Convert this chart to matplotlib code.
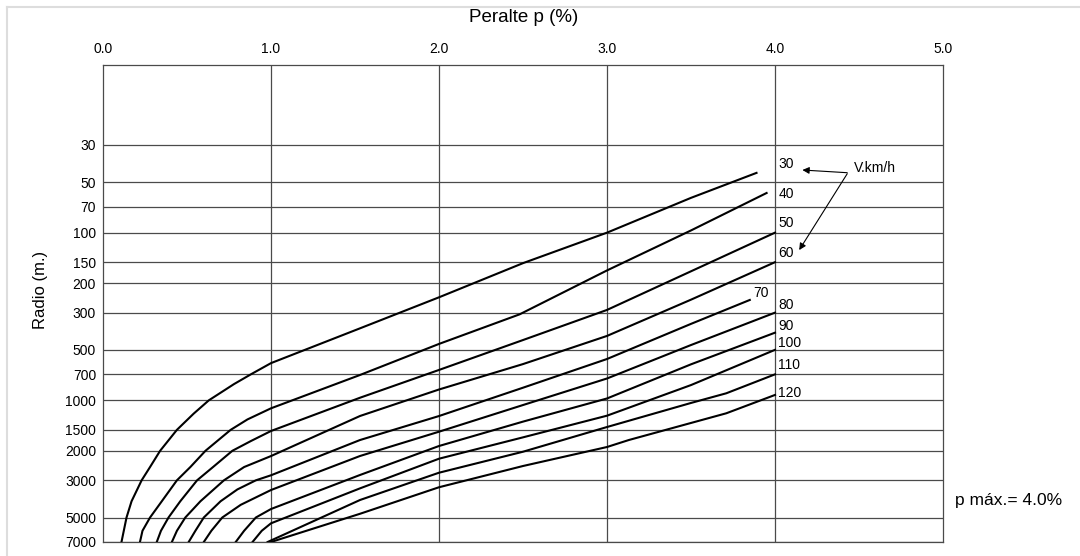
import matplotlib
matplotlib.use("Agg")
import matplotlib.pyplot as plt
from matplotlib.lines import Line2D

plt.rcParams['font.family'] = ['Liberation Sans', 'DejaVu Sans']

# peralte p (%) vs radio R (m) for each design speed
speeds = [30, 40, 50, 60, 70, 80, 90, 100, 110, 120]

p_30 = [0.11, 0.14, 0.17, 0.23, 0.28, 0.34, 0.44, 0.54, 0.63, 0.78, 0.88, 1.0, 1.53, 2.0, 2.5, 3.0, 3.5, 3.89]
r_30 = [7000, 5000, 4000, 3000, 2500, 2000, 1500, 1200, 1000, 800, 700, 600, 372, 243, 152, 100, 62, 44]

p_40 = [0.22, 0.235, 0.28, 0.35, 0.44, 0.52, 0.61, 0.76, 0.86, 1.0, 1.53, 2.0, 2.48, 3.0, 3.5, 3.95]
r_40 = [7000, 6000, 5000, 4000, 3000, 2500, 2000, 1500, 1300, 1116, 706, 461, 307, 168, 97, 58]

p_50 = [0.32, 0.345, 0.39, 0.46, 0.56, 0.655, 0.77, 0.88, 1.0, 1.53, 2.0, 2.5, 3.0, 3.5, 4.0]
r_50 = [7000, 6000, 5000, 4000, 3000, 2500, 2000, 1750, 1524, 965, 659, 437, 289, 170, 100]

p_60 = [0.41, 0.44, 0.49, 0.58, 0.72, 0.84, 1.0, 1.53, 2.0, 2.5, 3.0, 3.5, 4.0]
r_60 = [7000, 6000, 5000, 4000, 3000, 2500, 2150, 1240, 862, 608, 413, 251, 150]

p_70 = [0.51, 0.55, 0.60, 0.70, 0.80, 0.91, 1.0, 1.53, 2.0, 2.5, 3.0, 3.5, 3.85]
r_70 = [7000, 6000, 5000, 4000, 3400, 3000, 2800, 1725, 1241, 841, 567, 350, 252]

p_80 = [0.60, 0.645, 0.71, 0.82, 1.0, 1.53, 2.0, 2.5, 3.0, 3.5, 4.0]
r_80 = [7000, 6000, 5000, 4200, 3428, 2148, 1539, 1067, 741, 468, 300]

p_90 = [0.79, 0.84, 0.91, 1.0, 1.53, 2.0, 2.5, 3.0, 3.5, 4.0]
r_90 = [7000, 6000, 5000, 4450, 2788, 1873, 1340, 975, 610, 395]

p_100 = [0.89, 0.945, 1.0, 1.53, 2.0, 2.5, 3.0, 3.5, 4.0]
r_100 = [7000, 6000, 5415, 3350, 2230, 1663, 1235, 811, 500]

p_110 = [0.98, 1.53, 2.0, 2.5, 3.0, 3.5, 3.71, 4.0]
r_110 = [7000, 3931, 2703, 2026, 1443, 1037, 908, 700]

p_120 = [1.0, 1.53, 2.0, 2.5, 3.0, 3.13, 3.71, 4.0]
r_120 = [7000, 4750, 3300, 2465, 1899, 1725, 1195, 929]

curves = [(p_30, r_30), (p_40, r_40), (p_50, r_50), (p_60, r_60), (p_70, r_70),
          (p_80, r_80), (p_90, r_90), (p_100, r_100), (p_110, r_110), (p_120, r_120)]

x_ticks = [0.0, 1.0, 2.0, 3.0, 4.0, 5.0]
y_ticks = [30, 50, 70, 100, 150, 200, 300, 500, 700, 1000, 1500, 2000, 3000, 5000, 7000]

# label positions (p, R) for each speed
label_pos = {30: (4.02, 39), 40: (4.02, 59), 50: (4.02, 88), 60: (4.02, 133),
             70: (3.87, 230), 80: (4.02, 269), 90: (4.02, 359), 100: (4.02, 453),
             110: (4.02, 613), 120: (4.02, 901)}

W, H = 1080, 556
fig = plt.figure(figsize=(W / 100, H / 100), dpi=100)
ax = fig.add_axes([103 / W, 1 - 542 / H, (943 - 103) / W, (542 - 65) / H])

grid_c = '#4a4a4a'
for x in x_ticks[1:-1]:
    ax.axvline(x, color=grid_c, lw=0.9, zorder=1)
for y in y_ticks:
    ax.axhline(y, color=grid_c, lw=0.9, zorder=1)

for p, r in curves:
    ax.plot(p, r, color='black', lw=1.5, zorder=3, solid_joinstyle='round')

ax.set_yscale('log')
ax.set_xlim(0, 5)
ax.set_ylim(7000, 10)
ax.minorticks_off()
ax.set_xticks(x_ticks)
ax.set_xticklabels([f'{v:.1f}' for v in x_ticks])
ax.set_yticks(y_ticks)
ax.set_yticklabels([str(v) for v in y_ticks])
ax.xaxis.tick_top()
ax.tick_params(axis='x', length=0, pad=6.5, labelsize=10)
ax.tick_params(axis='y', length=0, pad=5, labelsize=10)
for s in ax.spines.values():
    s.set_color(grid_c)
    s.set_linewidth(0.9)

for v in speeds:
    px, py = label_pos[v]
    ax.text(px, py, str(v), fontsize=10, ha='left', va='center')

ax.text(4.47, 41, 'V.km/h', fontsize=10, ha='left', va='center')
arrow = dict(arrowstyle='-|>', color='black', lw=0.8, mutation_scale=10, shrinkA=0, shrinkB=0)
ax.annotate('', xy=(4.163, 42.3), xytext=(4.43, 43.9), arrowprops=arrow)
ax.annotate('', xy=(4.144, 127), xytext=(4.43, 44.5), arrowprops=arrow)

fig.text(524 / W, 1 - 18 / H, 'Peralte p (%)', ha='center', va='center', fontsize=13.5)
fig.text(40 / W, 1 - 290 / H, 'Radio (m.)', ha='center', va='center', rotation=90, fontsize=12)
fig.text(955 / W, 1 - 500 / H, 'p máx.= 4.0%', ha='left', va='center', fontsize=12.5)

# light frame on top and left edges
fig.add_artist(Line2D([7 / W, 1], [1 - 7 / H, 1 - 7 / H], color='#dddddd', lw=1.5, transform=fig.transFigure))
fig.add_artist(Line2D([7 / W, 7 / W], [0, 1 - 7 / H], color='#dddddd', lw=1.5, transform=fig.transFigure))

fig.savefig('out.png', dpi=100, facecolor='white')
